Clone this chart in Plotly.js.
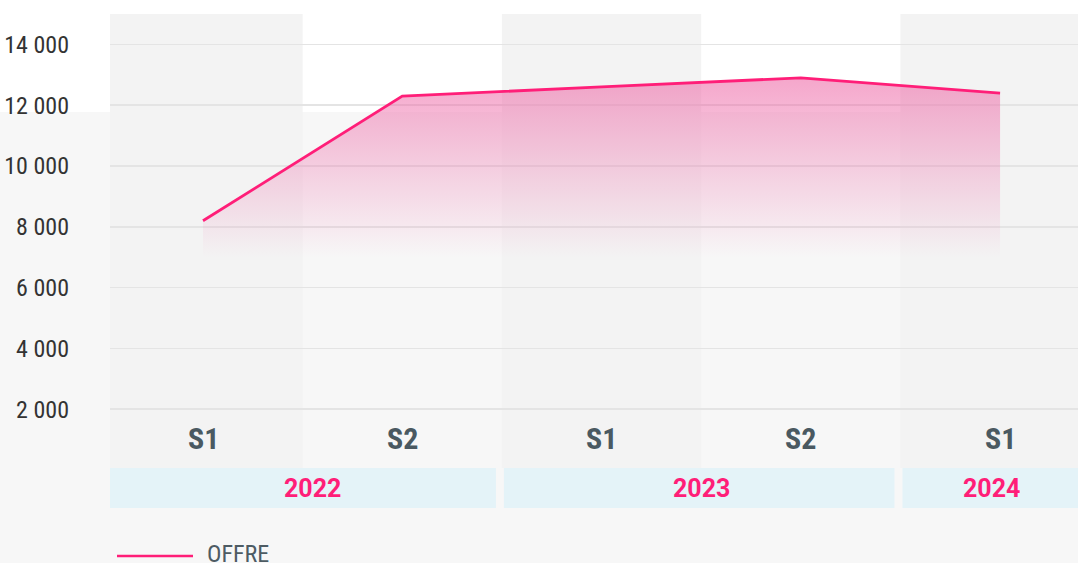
<!DOCTYPE html>
<html>
<head>
<meta charset="utf-8">
<script src="https://cdn.plot.ly/plotly-3.0.1.min.js"></script>
<style>
html,body{margin:0;padding:0;background:#f7f7f7;}
#chart{width:1078px;height:563px;}
</style>
</head>
<body>
<div id="chart"></div>
<script>
// ---- data ----
var periods = ['S1', 'S2', 'S1', 'S2', 'S1'];
var years = ['2022', '2022', '2023', '2023', '2024'];
var offre = [8200, 12300, 12600, 12900, 12400];
var seriesName = 'OFFRE';
var yTicks = [2000, 4000, 6000, 8000, 10000, 12000, 14000];
var fillBase = 7000;

var condensed = '"Roboto Condensed", "Liberation Sans Narrow", "DejaVu Sans Condensed", Roboto, sans-serif';
var pink = '#ff1e78';

var idx = periods.map(function (_, i) { return i; });

// plot geometry helpers (plot area: x 110..1078, y 14..470)
var plotTop = 14, plotBottom = 470, plotH = plotBottom - plotTop, plotW = 968;
function py(p) { return (plotBottom - p) / plotH; }
function px(p) { return (p - 110) / plotW; }

var xmin = -0.4667, xmax = 4.391;

var traces = [
  {
    x: idx, y: idx.map(function () { return fillBase; }),
    mode: 'lines', line: {width: 0, color: 'rgba(0,0,0,0)'},
    hoverinfo: 'skip', showlegend: false
  },
  {
    x: idx, y: offre, name: seriesName,
    mode: 'lines', line: {color: pink, width: 2.8},
    fill: 'tonexty',
    fillgradient: {
      type: 'vertical',
      start: fillBase, stop: 13000,
      colorscale: [[0, 'rgba(238,110,170,0)'], [1, 'rgba(238,110,170,0.62)']]
    },
    showlegend: false
  }
];

var shapes = [];
// white top strip of the page
shapes.push({type: 'rect', xref: 'paper', yref: 'paper', x0: -0.12, x1: 1.01, y0: py(112), y1: py(-2),
  fillcolor: '#ffffff', line: {width: 0}, layer: 'below'});
// shaded S1 columns
periods.forEach(function (p, i) {
  if (p === 'S1') {
    shapes.push({type: 'rect', xref: 'x', yref: 'paper', x0: Math.max(i - 0.5, xmin), x1: Math.min(i + 0.5, xmax),
      y0: py(468), y1: 1, fillcolor: '#f3f3f3', line: {width: 0}, layer: 'below'});
  }
});

var annotations = [];
// period labels
periods.forEach(function (p, i) {
  annotations.push({x: i, xref: 'x', y: py(438), yref: 'paper', text: p, showarrow: false,
    xanchor: 'center', yanchor: 'middle',
    font: {family: condensed, size: 30, color: '#4a5961', weight: 700}});
});
// year groups
var groups = [];
years.forEach(function (y, i) {
  var g = groups.length ? groups[groups.length - 1] : null;
  if (g && g.year === y) { g.last = i; } else { groups.push({year: y, first: i, last: i}); }
});
groups.forEach(function (g) {
  var x0 = g.first === 0 ? xmin : g.first - 0.5 + 0.01;
  var x1 = g.last === periods.length - 1 ? xmax + 0.05 : g.last + 0.5 - 0.03;
  shapes.push({type: 'rect', xref: 'x', yref: 'paper', x0: x0, x1: x1, y0: py(508), y1: py(468),
    fillcolor: '#e4f3f8', line: {width: 0}, layer: 'above'});
  var cx = (g.first + g.last) / 2;
  if (g.first === 0) cx += 0.05;
  if (g.last === periods.length - 1 && g.first === g.last) cx -= 0.045;
  annotations.push({x: cx, xref: 'x', y: py(488), yref: 'paper',
    text: g.year, showarrow: false, xanchor: 'center', yanchor: 'middle',
    font: {family: 'Roboto, sans-serif', size: 25, color: pink, weight: 700}});
});
// custom legend
shapes.push({type: 'line', xref: 'paper', yref: 'paper', x0: px(117), x1: px(193), y0: py(556), y1: py(556),
  line: {color: pink, width: 2.6}});
annotations.push({x: px(205), xref: 'paper', y: py(554), yref: 'paper', text: seriesName, showarrow: false,
  xanchor: 'left', yanchor: 'middle', font: {family: condensed, size: 24, color: '#4d5b63'}});

var layout = {
  width: 1078, height: 563,
  margin: {l: 110, r: 0, t: plotTop, b: 563 - plotBottom, pad: 0},
  paper_bgcolor: '#f7f7f7',
  plot_bgcolor: 'rgba(0,0,0,0)',
  separators: ', ',
  showlegend: false,
  xaxis: {
    range: [xmin, xmax], showgrid: false, zeroline: false, showline: false,
    showticklabels: false, ticks: '', fixedrange: true
  },
  yaxis: {
    range: [0, 15000], tickvals: yTicks, tickformat: ',d',
    showgrid: true, gridcolor: '#e4e4e4', gridwidth: 1.6,
    zeroline: false, showline: false, ticks: '',
    ticklabelstandoff: 40,
    tickfont: {family: condensed, size: 24, color: '#333333'}
  },
  shapes: shapes,
  annotations: annotations
};

Plotly.newPlot('chart', traces, layout, {displayModeBar: false, staticPlot: true});
</script>
</body>
</html>
